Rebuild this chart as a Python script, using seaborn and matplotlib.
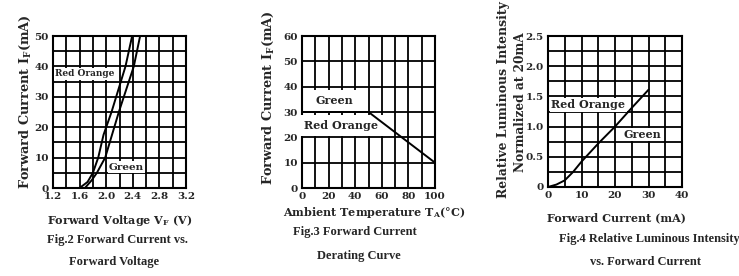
import numpy as np
import pandas as pd
import matplotlib.pyplot as plt
from matplotlib.ticker import MultipleLocator
import seaborn as sns

sns.set_style("white")
plt.rcParams['font.family'] = ['DejaVu Serif']
plt.rcParams['font.weight'] = 'bold'
plt.rcParams['mathtext.default'] = 'regular'

# ------------------------------------------------------------------
# Data
# ------------------------------------------------------------------
# Fig.2 forward current vs forward voltage
vf_red = [1.60, 1.72, 1.80, 1.88, 1.96, 2.08, 2.29, 2.39]
if_red = [0, 2, 5, 10, 17.5, 25, 40, 50]
vf_green = [1.68, 1.78, 1.86, 1.985, 2.19, 2.415, 2.51]
if_green = [0, 2.5, 5, 10, 25, 40, 50]

# Fig.3 derating curve
temp = [0, 50, 100]
if_max = [30, 30, 10]

# Fig.4 relative luminous intensity
i_fwd = [0, 2.5, 5, 7.5, 10, 15, 20, 25, 30]
rel_lum = [0, 0.04, 0.11, 0.25, 0.42, 0.72, 1.0, 1.31, 1.61]

fig2_df = pd.concat([
    pd.DataFrame({'vf': vf_red, 'if': if_red, 'led': 'Red Orange'}),
    pd.DataFrame({'vf': vf_green, 'if': if_green, 'led': 'Green'}),
])
fig3_df = pd.DataFrame({'t': temp, 'if': if_max})
fig4_df = pd.DataFrame({'i': i_fwd, 'lum': rel_lum})

fig = plt.figure(figsize=(7.39, 2.76), dpi=100)
W, H = 739, 276


def add_ax(x0, x1, y0, y1):
    return fig.add_axes([x0 / W, 1 - y1 / H, (x1 - x0) / W, (y1 - y0) / H])


def style(ax, xlim, ylim, xmaj, xmin, ymaj, ymin):
    ax.set_xlim(*xlim)
    ax.set_ylim(*ylim)
    ax.xaxis.set_major_locator(MultipleLocator(xmaj))
    ax.xaxis.set_minor_locator(MultipleLocator(xmin))
    ax.yaxis.set_major_locator(MultipleLocator(ymaj))
    ax.yaxis.set_minor_locator(MultipleLocator(ymin))
    ax.grid(True, which='both', color='black', linewidth=1.3)
    ax.set_axisbelow(True)
    for s in ax.spines.values():
        s.set_color('black')
        s.set_linewidth(1.5)
    ax.tick_params(which='both', length=0, labelsize=7.5, pad=3)
    ax.set_xlabel('')
    ax.set_ylabel('')


lab_box = dict(facecolor='white', edgecolor='none', pad=1.0)
txt = dict(fontsize=8, fontweight='bold')
ytxt = dict(fontsize=9.3, fontweight='bold')
ttl = dict(fontsize=9, fontweight='bold', family=['Liberation Serif'])

# ---------------- Fig.2 ----------------
ax1 = add_ax(53, 186, 36, 188)
sns.lineplot(data=fig2_df, x='vf', y='if', units='led', estimator=None, sort=False,
             ax=ax1, color='black', linewidth=1.4, zorder=5)
style(ax1, (1.2, 3.2), (0, 50), 0.4, 0.2, 10, 5)
ax1.xaxis.set_major_formatter(plt.FormatStrFormatter('%.1f'))
ax1.text(1.23, 37.5, 'Red Orange', fontsize=6.5, fontweight='bold', va='center', bbox=lab_box)
ax1.text(2.04, 6.8, 'Green', fontsize=7.5, fontweight='bold', va='center', bbox=lab_box)
fig.text(25 / W, 1 - 102 / H, r'Forward Current I$_F$(mA)', rotation=90,
         ha='center', va='center', **ytxt)
fig.text(120 / W, 1 - 220 / H, r'Forward Voltage V$_F$ (V)', ha='center', va='center', **txt)
fig.text(117 / W, 1 - 240 / H, 'Fig.2 Forward Current vs.', ha='center', va='center', **ttl)
fig.text(114 / W, 1 - 262 / H, 'Forward Voltage', ha='center', va='center', **ttl)

# ---------------- Fig.3 ----------------
ax2 = add_ax(302, 435, 36, 188)
style(ax2, (0, 100), (0, 60), 20, 10, 10, 10)
ax2.text(10.5, 34.5, 'Green', fontsize=8, fontweight='bold', va='center',
         bbox=dict(facecolor='white', edgecolor='none', pad=3.5))
ax2.text(1.5, 24.8, 'Red Orange', fontsize=8, fontweight='bold', va='center',
         bbox=dict(facecolor='white', edgecolor='none', pad=3.5))
sns.lineplot(data=fig3_df, x='t', y='if', ax=ax2, color='black', linewidth=1.4, zorder=5)
ax2.set_xlabel('')
ax2.set_ylabel('')
fig.text(268 / W, 1 - 98 / H, r'Forward Current I$_F$(mA)', rotation=90,
         ha='center', va='center', **ytxt)
fig.text(374 / W, 1 - 212 / H, r'Ambient Temperature T$_A$(°C)', ha='center', va='center', **txt)
fig.text(293 / W, 1 - 232 / H, 'Fig.3 Forward Current', ha='left', va='center', **ttl)
fig.text(317 / W, 1 - 256 / H, 'Derating Curve', ha='left', va='center', **ttl)

# ---------------- Fig.4 ----------------
ax3 = add_ax(548, 682, 36, 187)
sns.lineplot(data=fig4_df, x='i', y='lum', ax=ax3, color='black', linewidth=1.4, zorder=5)
style(ax3, (0, 40), (0, 2.5), 10, 5, 0.5, 0.25)
ax3.yaxis.set_major_formatter(plt.FuncFormatter(lambda v, p: '0' if v == 0 else f'{v:.1f}'))
ax3.text(1.0, 1.36, 'Red Orange', fontsize=8, fontweight='bold', va='center', bbox=lab_box)
ax3.text(22.4, 0.87, 'Green', fontsize=8, fontweight='bold', va='center', bbox=lab_box)
fig.text(503 / W, 1 - 100 / H, 'Relative Luminous Intensity', rotation=90,
         ha='center', va='center', fontsize=8.9, fontweight='bold')
fig.text(520 / W, 1 - 102 / H, 'Normalized at 20mA', rotation=90,
         ha='center', va='center', fontsize=8.7, fontweight='bold')
fig.text(616 / W, 1 - 218 / H, 'Forward Current (mA)', ha='center', va='center', **txt)
fig.text(649 / W, 1 - 239 / H, 'Fig.4 Relative Luminous Intensity', ha='center', va='center', **ttl)
fig.text(645 / W, 1 - 262 / H, 'vs. Forward Current', ha='center', va='center', **ttl)

fig.savefig('out.png', dpi=100)
